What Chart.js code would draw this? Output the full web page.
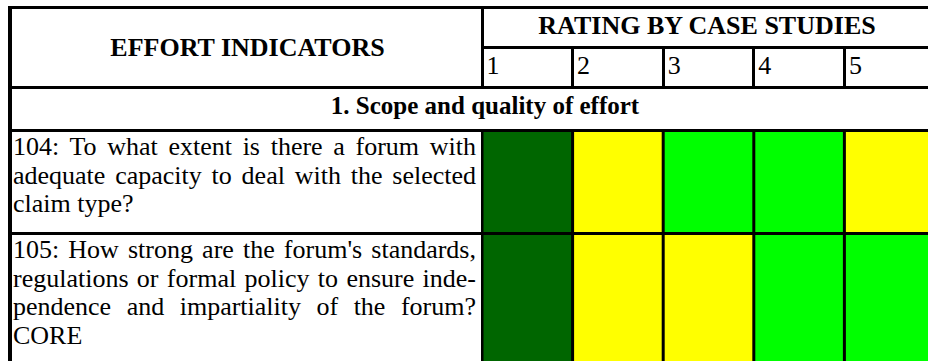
<!DOCTYPE html>
<html>
<head>
<meta charset="utf-8">
<script src="https://cdn.jsdelivr.net/npm/chart.js@4.4.0/dist/chart.umd.min.js"></script>
<style>
  html, body { margin: 0; padding: 0; background: #fff; }
  body {
    position: relative; width: 928px; height: 361px; overflow: hidden;
    font-family: "Liberation Serif", "Tinos", "DejaVu Serif", serif; color: #000;
    font-size: 26px; line-height: 29px;
  }
  .rule { position: absolute; background: #000; }
  .txt { position: absolute; white-space: nowrap; }
  .bold { font-weight: bold; }
  .center { text-align: center; }
  .just { position: absolute; white-space: nowrap; text-align: justify; text-align-last: justify; line-height: 28.5px; }
  .just.last { text-align-last: left; }
  .row-chart { position: absolute; left: 482px; width: 453px; background: #000; }
  .row-chart canvas { display: block; }
</style>
</head>
<body>
<div id="table"></div>
<script>
// table data
const effortTitle = 'EFFORT INDICATORS';
const ratingTitle = 'RATING BY CASE STUDIES';
const sectionTitle = '1. Scope and quality of effort';
const caseStudies = ['1', '2', '3', '4', '5'];

const indicator104 = [
  '104: To what extent is there a forum with',
  'adequate capacity to deal with the selected',
  'claim type?',
];
const indicator105 = [
  "105: How strong are the forum's standards,",
  'regulations or formal policy to ensure inde-',
  'pendence and impartiality of the forum?',
  'CORE',
];

// rating of each case study (colour coded)
const ratings104 = ['high', 'medium', 'good', 'good', 'medium'];
const ratings105 = ['high', 'medium', 'medium', 'good', 'good'];

const ratingColors = { high: '#006600', good: '#00ff00', medium: '#ffff00' };

const root = document.getElementById('table');
const COL_LEFT = 482;
const COL_W = 90.6;

function add(cls, style, text) {
  const d = document.createElement('div');
  d.className = cls;
  Object.assign(d.style, style);
  if (text !== undefined) d.textContent = text;
  root.appendChild(d);
  return d;
}

// outer + grid rules
add('rule', { left: '8px', top: '6px', width: '920px', height: '3px' });
add('rule', { left: '8px', top: '6px', width: '4px', height: '355px' });
add('rule', { left: '481px', top: '6px', width: '3px', height: '83px' });
add('rule', { left: '481px', top: '46px', width: '447px', height: '3px' });
add('rule', { left: '8px', top: '86px', width: '920px', height: '3px' });
add('rule', { left: '8px', top: '129px', width: '920px', height: '3px' });
add('rule', { left: '8px', top: '232px', width: '920px', height: '3px' });
add('rule', { left: '481px', top: '129px', width: '3px', height: '232px' });

// header texts
add('txt bold center', { left: '12px', width: '471px', top: '33px' }, effortTitle);
add('txt bold center', { left: '484px', width: '446px', top: '11px' }, ratingTitle);
caseStudies.forEach((c, i) => {
  const x = COL_LEFT + i * COL_W;
  if (i > 0) add('rule', { left: (x - 1.5) + 'px', top: '46px', width: '3px', height: '43px' });
  add('txt', { left: (x + 4.5) + 'px', top: '51px' }, c);
});
add('txt bold center', { left: '12px', width: '946px', top: '91px', fontSize: '25px' }, sectionTitle);

// indicator texts, one div per printed line
function addIndicator(lines, top) {
  lines.forEach((line, i) => {
    add('just' + (i === lines.length - 1 ? ' last' : ''),
      { left: '13px', width: '463px', top: (top + i * 28.5) + 'px' }, line);
  });
}
addIndicator(indicator104, 133);
addIndicator(indicator105, 236);

// rating cells drawn as full-height bars, one chart per indicator row
function createRatingRow(top, height, ratings) {
  const wrap = add('row-chart', { top: top + 'px', height: height + 'px' });
  const canvas = document.createElement('canvas');
  canvas.width = 453;
  canvas.height = height;
  wrap.appendChild(canvas);

  return new Chart(canvas.getContext('2d'), {
    type: 'bar',
    data: {
      labels: caseStudies,
      datasets: [{
        data: ratings.map(() => 1),
        backgroundColor: ratings.map(r => ratingColors[r]),
        borderWidth: 0,
        categoryPercentage: 1,
        barPercentage: 0.967,
      }],
    },
    options: {
      responsive: false,
      animation: false,
      layout: { padding: 0 },
      plugins: { legend: { display: false }, tooltip: { enabled: false } },
      scales: {
        x: { display: false },
        y: { display: false, min: 0, max: 1 },
      },
    },
  });
}

createRatingRow(132, 100, ratings104);
createRatingRow(235, 126, ratings105);
</script>
</body>
</html>
